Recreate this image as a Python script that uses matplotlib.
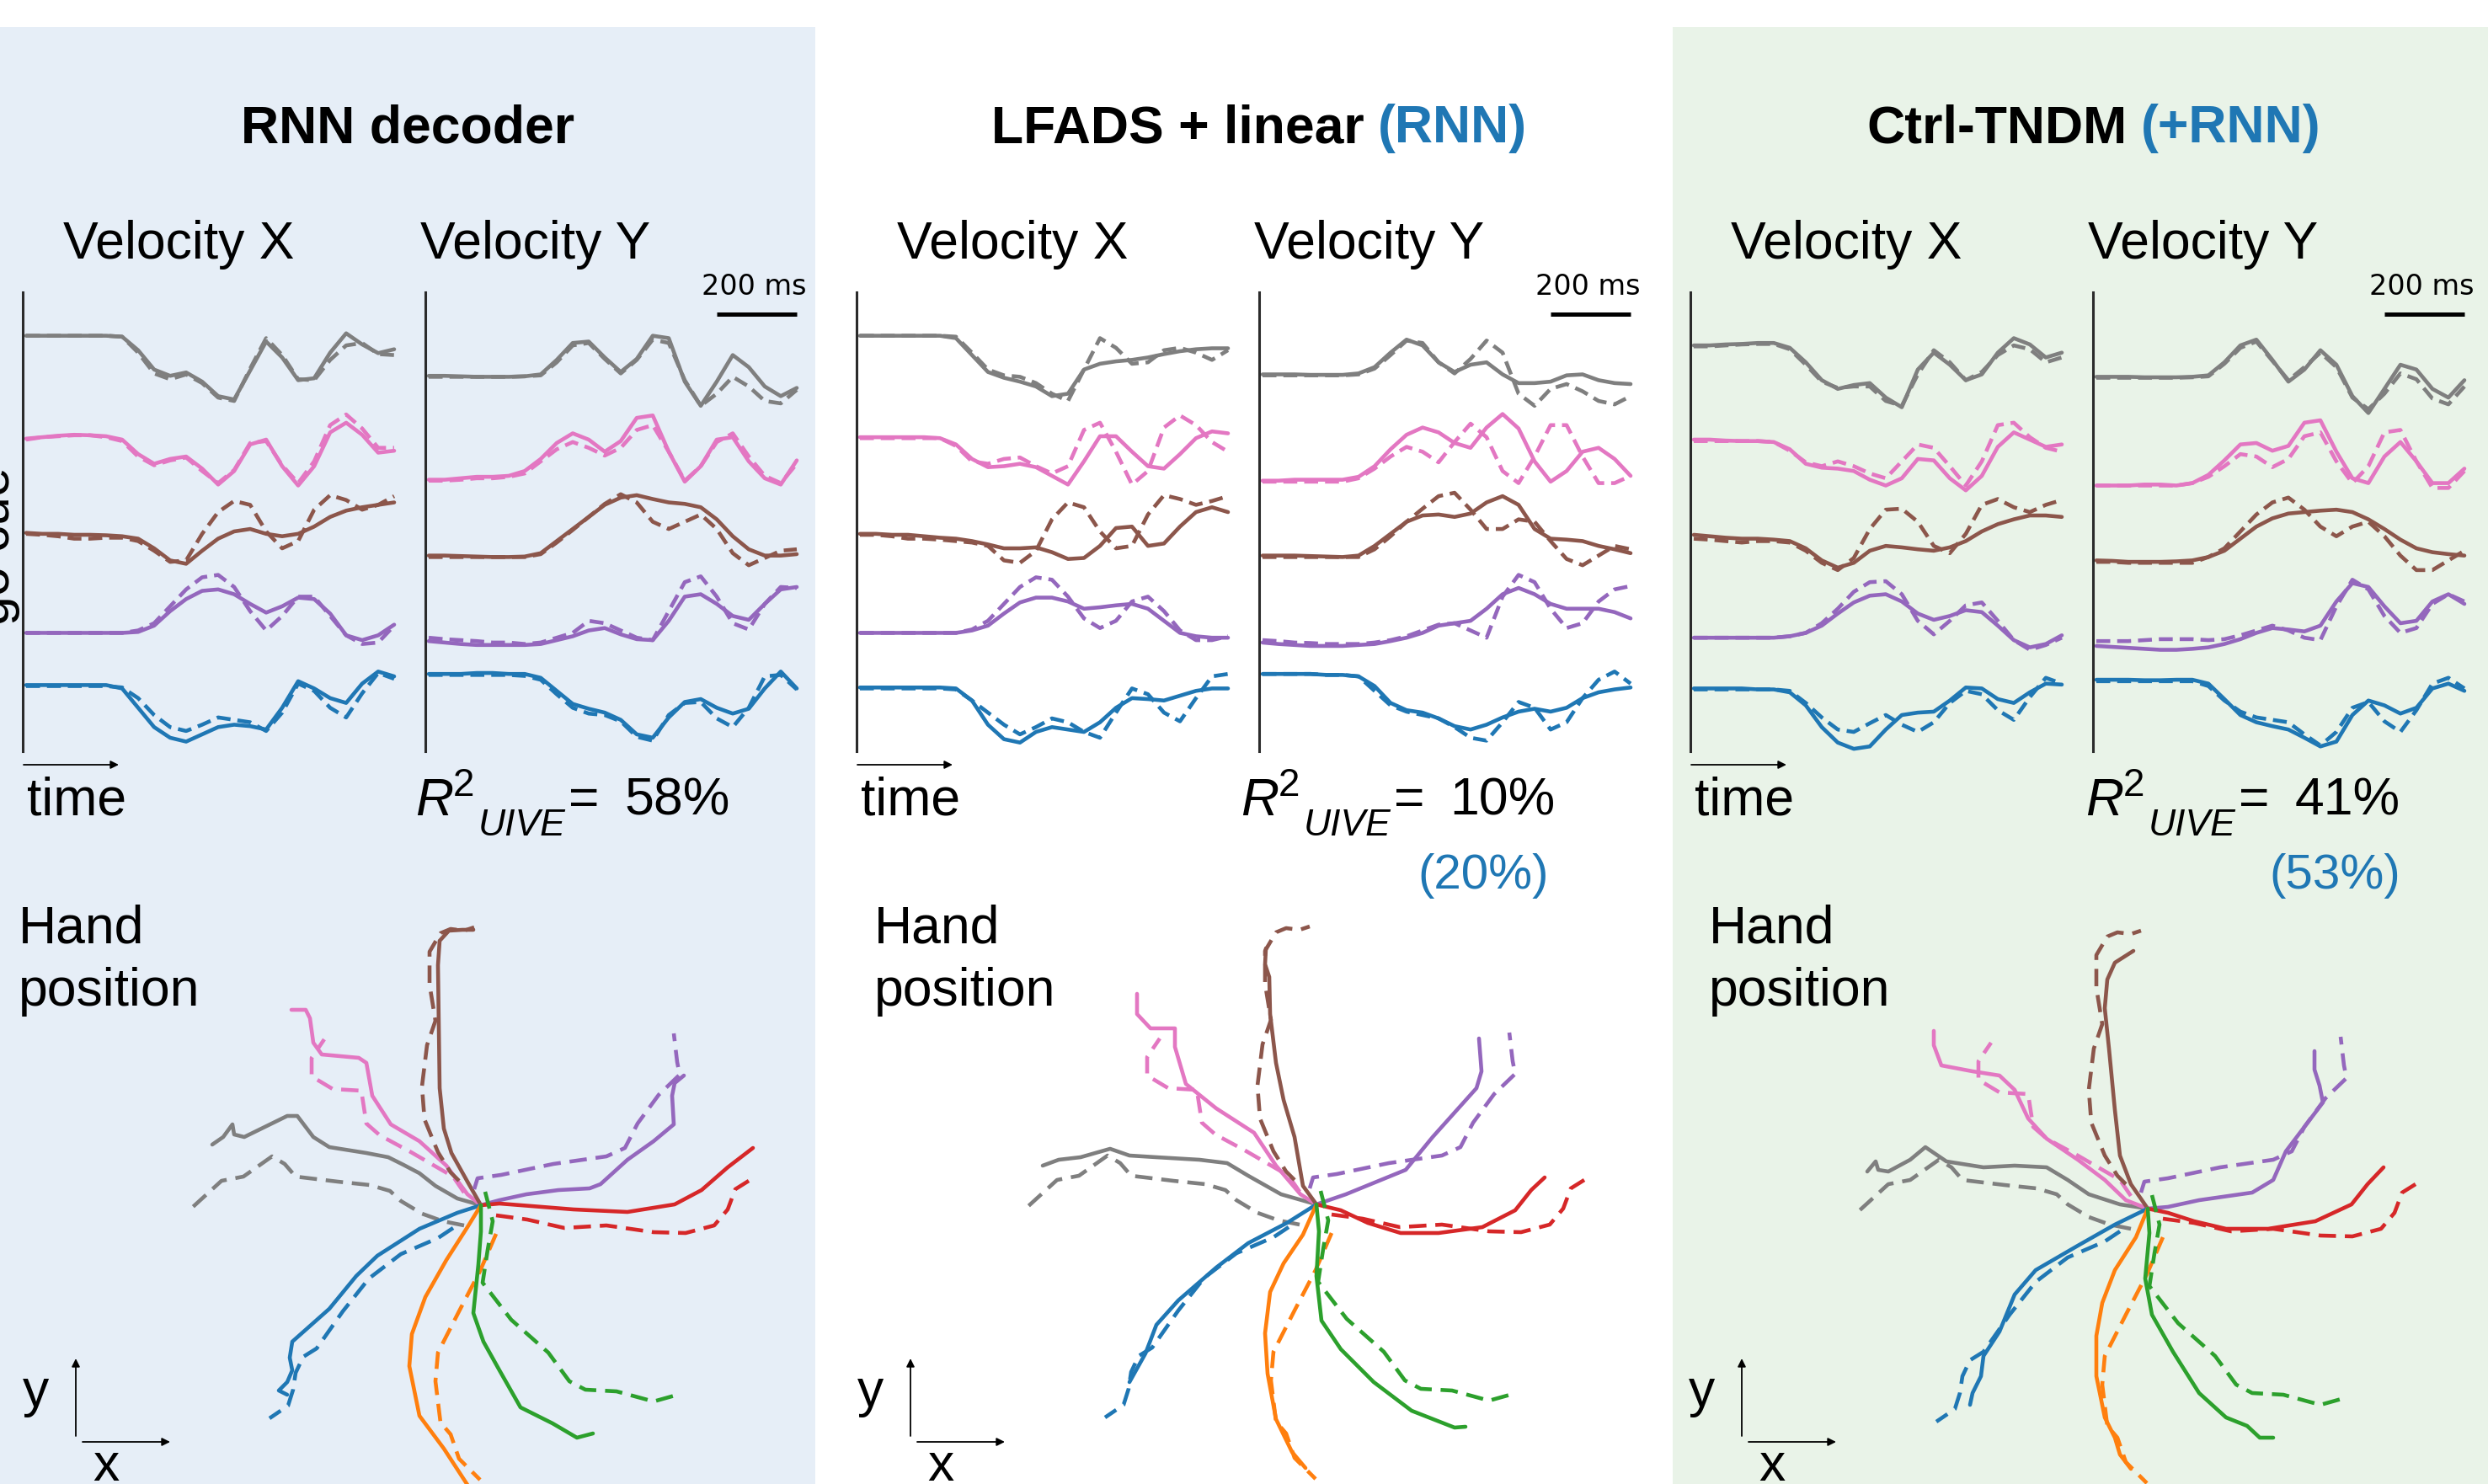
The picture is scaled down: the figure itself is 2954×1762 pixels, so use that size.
import matplotlib
matplotlib.use('Agg')
import matplotlib.pyplot as plt
from matplotlib.patches import Rectangle
from matplotlib.transforms import blended_transform_factory

plt.rcParams['font.family'] = ['Liberation Sans', 'DejaVu Sans']

W, H = 2954, 1762
BLUE_TXT = '#1f77b4'

# trace colours (velocity: top to bottom; hand: one per reach direction)
VEL_COLORS = ['#7f7f7f', '#e377c2', '#8c564b', '#9467bd', '#1f77b4']
HAND_COLORS = ['#7f7f7f', '#e377c2', '#8c564b', '#9467bd', '#d62728', '#1f77b4', '#ff7f0e', '#2ca02c']

TIME_MS = [0, 40, 80, 120, 160, 200, 240, 280, 320, 360, 400, 440,
           480, 520, 560, 600, 640, 680, 720, 760, 800, 840, 880, 920]
SCALE_MS = 200

TITLES_BLACK = ['RNN decoder', 'LFADS + linear', 'Ctrl-TNDM']
TITLES_BLUE = ['', '(RNN)', '(+RNN)']
R2_MAIN = ['58%', '10%', '41%']
R2_RNN = ['', '(20%)', '(53%)']

# velocity traces (stacked, arbitrary units, larger = lower on the page)
# solid = decoded, dashed = recorded
RNN_VX_DEC = [
    [520,520,520,520,520,520,522,550,590,603,596,615,645,652,592,532,565,612,608,555,515,538,556,548],
    [733,730,727,725,726,728,735,765,785,775,770,795,828,800,745,735,790,830,790,720,700,725,762,758],
    [928,930,930,932,932,933,935,940,960,985,992,965,940,925,920,930,935,930,915,895,882,875,870,865],
    [1135,1135,1135,1135,1135,1135,1135,1133,1120,1090,1065,1048,1045,1055,1075,1093,1080,1062,1065,1095,1140,1150,1140,1118],
    [1243,1243,1243,1243,1243,1243,1250,1290,1330,1352,1360,1345,1330,1325,1328,1335,1290,1235,1250,1270,1280,1240,1215,1225],
]
RNN_VX_TRUE = [
    [520,520,520,520,520,520,522,555,598,610,600,618,648,655,588,525,560,610,612,570,540,535,558,560],
    [735,730,728,726,726,730,738,770,788,778,772,800,825,798,742,738,788,825,780,705,683,712,752,752],
    [930,932,935,940,940,938,938,945,965,988,985,930,885,862,870,925,960,945,880,850,860,880,870,852],
    [1135,1135,1135,1135,1135,1135,1135,1130,1115,1080,1045,1020,1015,1040,1090,1130,1100,1060,1060,1100,1140,1158,1155,1120],
    [1245,1245,1245,1245,1245,1245,1248,1270,1305,1330,1338,1325,1310,1315,1320,1338,1300,1240,1255,1290,1310,1260,1218,1230],
]
RNN_VY_DEC = [
    [603,603,604,605,605,605,604,600,570,535,532,565,595,568,520,525,615,665,615,560,585,625,645,628],
    [818,818,815,812,812,810,800,775,742,722,735,760,738,690,685,760,822,790,735,730,780,815,828,778],
    [975,975,976,977,978,978,977,970,945,920,895,870,855,850,858,865,868,875,900,935,962,975,975,972],
    [1152,1155,1158,1160,1160,1160,1160,1158,1150,1142,1130,1125,1138,1148,1150,1110,1060,1055,1075,1100,1108,1075,1045,1040],
    [1220,1220,1220,1218,1218,1220,1220,1228,1255,1282,1292,1300,1315,1345,1352,1310,1278,1272,1290,1302,1292,1250,1215,1250],
]
RNN_VY_TRUE = [
    [605,605,605,605,605,605,604,602,575,540,535,568,598,570,528,535,612,665,640,605,625,655,660,632],
    [820,820,818,815,815,812,805,780,755,740,752,768,752,715,705,760,820,790,740,722,770,810,825,785],
    [978,978,978,978,978,978,978,972,948,922,895,868,848,865,905,920,905,890,920,970,995,980,965,962],
    [1145,1148,1150,1152,1155,1155,1158,1155,1145,1135,1110,1115,1130,1145,1150,1090,1030,1018,1060,1115,1128,1075,1040,1042],
    [1222,1222,1222,1222,1222,1222,1224,1232,1262,1290,1302,1305,1318,1350,1358,1305,1280,1278,1312,1330,1290,1225,1222,1252],
]

LFADS_VX_DEC = [
    [520,520,520,520,520,520,525,560,595,607,615,625,645,640,590,578,573,570,565,558,552,548,546,546],
    [730,730,730,730,730,732,745,775,792,790,785,792,810,828,780,728,728,760,790,795,765,732,718,722],
    [930,930,932,932,935,938,940,945,952,960,960,958,968,982,980,955,918,915,955,950,915,885,875,885],
    [1135,1135,1135,1135,1135,1135,1135,1130,1120,1095,1072,1062,1062,1070,1085,1082,1078,1075,1085,1110,1135,1142,1145,1145],
    [1248,1248,1248,1248,1248,1248,1250,1275,1325,1355,1362,1340,1330,1335,1340,1320,1290,1270,1272,1275,1265,1255,1250,1250],
]
LFADS_VX_TRUE = [
    [520,520,520,520,520,520,522,555,590,602,605,618,640,655,590,525,545,578,575,550,545,555,570,550],
    [732,732,732,732,732,732,748,780,785,775,772,790,805,790,715,700,760,828,800,710,685,705,740,760],
    [932,932,935,940,940,942,945,948,955,985,990,965,900,865,875,925,960,955,890,850,858,870,862,852],
    [1135,1135,1135,1135,1135,1135,1135,1128,1110,1075,1040,1020,1025,1060,1105,1125,1110,1070,1060,1090,1130,1150,1150,1142],
    [1250,1250,1250,1250,1250,1250,1252,1275,1300,1325,1345,1330,1312,1320,1340,1352,1300,1250,1262,1300,1318,1270,1225,1220],
]
LFADS_VY_DEC = [
    [600,600,600,601,601,601,598,585,555,528,540,575,595,580,575,600,618,618,615,602,600,612,618,620],
    [820,820,818,818,818,818,812,790,755,725,710,720,742,752,710,682,712,780,822,800,760,752,775,810],
    [975,975,975,976,977,978,975,955,930,905,892,890,895,888,865,852,870,920,940,942,945,955,962,970],
    [1155,1158,1160,1162,1162,1162,1160,1158,1152,1145,1135,1120,1115,1110,1085,1055,1042,1055,1075,1085,1085,1085,1092,1105],
    [1220,1220,1220,1220,1222,1222,1225,1245,1280,1295,1300,1312,1328,1335,1325,1310,1298,1292,1298,1290,1270,1258,1252,1248],
]
LFADS_VY_TRUE = [
    [602,602,602,602,602,602,600,588,560,530,535,575,598,568,530,555,640,665,630,620,635,655,662,645],
    [822,822,822,822,822,822,815,795,770,750,760,782,740,702,730,800,825,770,705,705,770,825,825,810],
    [978,978,978,978,978,978,978,962,935,905,878,852,845,880,920,920,900,905,945,982,995,975,955,962],
    [1150,1152,1155,1156,1158,1158,1158,1155,1150,1142,1130,1118,1115,1130,1145,1060,1015,1030,1085,1125,1115,1070,1045,1038],
    [1220,1220,1220,1220,1222,1222,1225,1255,1285,1298,1305,1312,1330,1352,1358,1320,1278,1290,1335,1320,1270,1232,1215,1240],
]

TNDM_VX_DEC = [
    [540,540,538,537,535,535,545,575,612,630,622,618,648,668,590,555,580,612,600,555,525,538,565,555],
    [735,735,737,738,738,740,755,785,793,795,800,818,830,815,775,778,815,840,810,750,720,735,750,745],
    [932,935,938,940,940,942,945,960,985,1000,990,965,955,958,962,965,958,945,925,910,900,892,892,895],
    [1145,1145,1145,1145,1145,1145,1142,1135,1120,1095,1072,1058,1055,1070,1095,1108,1100,1088,1092,1120,1150,1165,1158,1140],
    [1250,1250,1250,1250,1252,1252,1258,1285,1330,1362,1375,1370,1335,1305,1300,1298,1275,1248,1250,1272,1280,1258,1240,1242],
]
TNDM_VX_TRUE = [
    [542,542,540,538,537,537,548,580,615,628,625,625,655,665,600,550,575,612,595,560,540,548,575,565],
    [738,738,738,738,738,740,758,782,790,780,790,805,815,780,745,752,790,830,780,705,700,730,752,760],
    [940,942,945,948,945,945,948,965,990,1005,980,920,880,878,905,955,970,930,870,858,875,885,870,860],
    [1145,1145,1145,1145,1145,1145,1142,1135,1115,1085,1050,1030,1028,1055,1110,1138,1110,1078,1072,1110,1150,1170,1160,1145],
    [1252,1252,1252,1252,1252,1252,1255,1280,1310,1335,1340,1322,1305,1325,1340,1320,1280,1255,1262,1295,1315,1268,1228,1240],
]
TNDM_VY_DEC = [
    [605,605,605,606,606,606,605,602,575,540,528,570,615,590,550,580,645,680,630,580,590,630,648,612],
    [830,830,830,828,828,830,825,808,778,745,742,758,748,700,695,760,815,825,770,740,780,825,825,795],
    [985,986,988,988,988,987,985,978,965,940,915,898,888,885,882,880,885,900,920,942,960,968,972,975],
    [1162,1164,1166,1168,1170,1170,1168,1165,1158,1148,1135,1125,1128,1132,1120,1070,1032,1040,1080,1115,1110,1070,1055,1075],
    [1232,1232,1232,1233,1233,1232,1232,1240,1272,1305,1320,1328,1335,1352,1370,1360,1305,1275,1285,1302,1290,1250,1240,1255],
]
TNDM_VY_TRUE = [
    [607,607,607,607,607,607,606,604,578,545,532,572,612,585,555,585,648,672,640,598,610,650,662,625],
    [830,830,830,830,830,830,825,812,790,765,770,792,775,728,720,780,825,790,720,715,780,835,835,800],
    [988,988,990,990,990,990,990,978,960,925,890,865,855,880,915,935,915,905,935,975,1005,1005,985,965],
    [1152,1152,1152,1150,1148,1148,1148,1150,1148,1140,1130,1120,1130,1145,1150,1080,1025,1045,1100,1135,1125,1075,1055,1070],
    [1235,1235,1235,1235,1235,1235,1235,1245,1275,1298,1310,1315,1320,1345,1368,1340,1290,1278,1318,1340,1295,1240,1228,1250],
]

# hand trajectories (x, y) relative to the start point; dashed = recorded
HAND_TRUE = [
    [(-20,-24),(-45,-19),(-70,-10),(-95,5),(-108,17),(-132,24),(-170,28),(-220,34),(-233,49),(-248,58),(-282,34),(-308,29),(-342,-2)],
    [(-20,15),(-33,34),(-83,63),(-120,83),(-136,97),(-142,136),(-176,138),(-201,153),(-201,175),(-186,197)],
    [(-26,29),(-36,39),(-51,63),(-67,102),(-70,141),(-64,190),(-54,219),(-61,262),(-61,301),(-48,323),(-36,328),(-20,326),(-8,330)],
    [(-8,19),(-4,32),(24,36),(86,49),(149,58),(171,68),(186,97),(211,131),(236,155),(233,170),(229,204)],
    [(18,-12),(55,-17),(99,-27),(149,-24),(205,-32),(243,-33),(277,-24),(293,-5),(302,19),(318,29)],
    [(-33,-27),(-51,-39),(-95,-58),(-133,-87),(-164,-126),(-195,-170),(-211,-180),(-220,-199),(-223,-219),(-229,-238),(-251,-253)],
    [(18,-34),(-1,-78),(-26,-126),(-51,-175),(-54,-209),(-48,-258),(-36,-272),(-26,-301),(-1,-326)],
    [(5,16),(14,-19),(8,-53),(2,-92),(36,-136),(80,-175),(105,-209),(124,-219),(161,-221),(205,-233),(230,-226)],
]
RNN_HAND = [
    [(0,0),(-28,8),(-54,23),(-73,38),(-92,48),(-110,57),(-136,62),(-180,69),(-199,81),(-218,106),(-230,106),(-281,81),(-293,84),(-295,96),(-306,81),(-319,72)],
    [(0,0),(-16,13),(-41,47),(-73,76),(-107,96),(-129,130),(-136,169),(-145,175),(-189,179),(-199,193),(-203,222),(-208,232),(-225,232)],
    [(0,0),(-16,28),(-35,62),(-44,91),(-49,139),(-50,212),(-51,285),(-49,314),(-38,326),(-22,327),(-9,327)],
    [(0,0),(22,6),(54,13),(92,18),(129,20),(142,25),(174,54),(205,76),(229,96),(227,130),(230,145),(241,154)],
    [(0,0),(22,2),(60,-1),(110,-5),(174,-8),(230,1),(262,18),(293,45),(323,68)],
    [(0,0),(-28,-9),(-73,-28),(-123,-60),(-148,-84),(-180,-123),(-224,-162),(-227,-181),(-224,-196),(-230,-210),(-240,-220),(-230,-225)],
    [(0,0),(-16,-26),(-41,-65),(-66,-109),(-82,-153),(-85,-191),(-73,-250),(-44,-289),(-16,-332)],
    [(0,0),(0,-31),(-3,-70),(-9,-128),(3,-162),(22,-196),(47,-240),(85,-259),(114,-276),(133,-271)],
]
LFADS_HAND = [
    [(0,0),(-42,12),(-81,34),(-106,49),(-139,53),(-190,56),(-222,58),(-245,66),(-280,56),(-306,53),(-325,46)],
    [(0,0),(-19,12),(-48,46),(-74,85),(-119,114),(-155,143),(-168,187),(-168,209),(-197,209),(-213,226),(-213,250)],
    [(0,0),(-16,22),(-26,80),(-39,124),(-48,168),(-55,226),(-56,270),(-61,285),(-60,304)],
    [(0,0),(35,12),(106,41),(138,80),(190,138),(196,158),(193,197)],
    [(0,0),(29,-7),(61,-22),(100,-34),(145,-34),(197,-27),(236,-7),(255,17),(271,32)],
    [(0,0),(-35,-22),(-81,-46),(-119,-75),(-164,-114),(-190,-143),(-203,-177),(-222,-211)],
    [(0,0),(-16,-36),(-39,-70),(-55,-104),(-61,-153),(-58,-201),(-48,-255),(-29,-294),(-13,-313)],
    [(0,0),(3,-32),(0,-85),(6,-138),(29,-172),(68,-211),(113,-245),(164,-265),(177,-264)],
]
TNDM_HAND = [
    [(0,0),(-33,5),(-70,17),(-95,34),(-120,49),(-158,51),(-195,49),(-239,56),(-264,73),(-282,58),(-308,44),(-320,46),(-323,56),(-333,44)],
    [(0,0),(-26,10),(-51,34),(-83,58),(-120,83),(-142,107),(-158,141),(-176,158),(-208,163),(-245,170),(-254,194),(-254,211)],
    [(0,0),(-20,29),(-33,63),(-39,117),(-46,190),(-51,238),(-48,272),(-39,292),(-17,306)],
    [(0,0),(24,2),(61,10),(124,19),(149,34),(164,68),(186,97),(208,126),(204,146),(198,165),(198,187)],
    [(0,0),(24,-5),(55,-15),(93,-24),(143,-24),(199,-15),(242,5),(261,29),(280,49)],
    [(0,0),(-39,-19),(-83,-44),(-133,-73),(-158,-102),(-176,-146),(-195,-175),(-198,-199),(-208,-219),(-211,-233)],
    [(0,0),(-14,-34),(-39,-73),(-54,-112),(-61,-151),(-61,-199),(-51,-248),(-39,-272),(-33,-292),(-20,-309)],
    [(0,0),(2,-29),(-3,-83),(5,-126),(30,-170),(61,-219),(93,-248),(118,-258),(133,-272),(149,-272)],
]

VX_DEC = [RNN_VX_DEC, LFADS_VX_DEC, TNDM_VX_DEC]
VX_TRUE = [RNN_VX_TRUE, LFADS_VX_TRUE, TNDM_VX_TRUE]
VY_DEC = [RNN_VY_DEC, LFADS_VY_DEC, TNDM_VY_DEC]
VY_TRUE = [RNN_VY_TRUE, LFADS_VY_TRUE, TNDM_VY_TRUE]
HAND_DEC = [RNN_HAND, LFADS_HAND, TNDM_HAND]

# layout (pixels)
PANEL_OFF = [0, 990, 1980]
TITLE_CX = [484, 1495, 2486]
R2_X = [493, 1473, 2476]
R2_RNN_CX = [0, 1761, 2772]
HAND_TXT_X = [22, 1038, 2029]
HAND_CENTRE = [(571, 1431), (1563, 1430), (2550, 1435)]
AXIS_ARROW_OFF = [0, 991, 1978]

LW = 3.3
DASH = (0, (3.6, 1.8))
HAND_DASH = (0, (4.5, 2.3))

fig = plt.figure(figsize=(W / 100, H / 100), dpi=100)
bg = fig.add_axes([0, 0, 1, 1])
bg.set_xlim(0, W)
bg.set_ylim(H, 0)
bg.axis('off')
bg.add_patch(Rectangle((0, 32), 968, H - 32, color='#e6eef7', lw=0))
bg.add_patch(Rectangle((1986, 32), W - 1986, H - 32, color='#e9f3e8', lw=0))

renderer = fig.canvas.get_renderer()


def px_axes(x, y, w, h):
    ax = fig.add_axes([x / W, 1 - (y + h) / H, w / W, h / H])
    ax.patch.set_visible(False)
    return ax


def velocity_axes(x):
    ax = px_axes(x, 347, 452, 545)
    ax.set_xlim(-4 / 0.475, 448 / 0.475)
    ax.set_ylim(1380, 430)
    for s in ['top', 'right', 'bottom']:
        ax.spines[s].set_visible(False)
    ax.spines['left'].set_color('#2b2b2b')
    ax.spines['left'].set_linewidth(2.2)
    ax.set_xticks([])
    ax.set_yticks([])
    return ax


def r2_label(x, y, value):
    # R (italic) + superscript 2 + subscript UIVE + "=" + value
    pieces = [('R', 45, 'italic', 0, 0),
              ('2', 33, 'normal', -23, 4),
              ('UIVE', 32, 'italic', 24, 4),
              ('=', 45, 'normal', 0, 30),
              (value, 45, 'normal', 0, 0)]
    cur = x
    for txt, size, style, dy, gap in pieces:
        t = bg.text(cur, y + dy, txt, fontsize=size, style=style, va='baseline')
        cur += t.get_window_extent(renderer).width + gap


for p in range(3):
    off = PANEL_OFF[p]

    # panel title, black + blue part
    t1 = bg.text(0, 169, TITLES_BLACK[p], fontsize=45, fontweight='bold', va='baseline')
    w1 = t1.get_window_extent(renderer).width
    if TITLES_BLUE[p]:
        t2 = bg.text(0, 169, TITLES_BLUE[p], fontsize=45, fontweight='bold',
                     va='baseline', color=BLUE_TXT)
        w2 = t2.get_window_extent(renderer).width
        gap = 17
        x0 = TITLE_CX[p] - (w1 + gap + w2) / 2
        t1.set_x(x0)
        t2.set_x(x0 + w1 + gap)
    else:
        t1.set_x(TITLE_CX[p] - w1 / 2)

    bg.text(off + 212, 307, 'Velocity X', fontsize=45, ha='center', va='baseline')
    bg.text(off + 636, 307, 'Velocity Y', fontsize=45, ha='center', va='baseline')

    axx = velocity_axes(off + 27)
    axy = velocity_axes(off + 505)
    for ax, dec, true in [(axx, VX_DEC[p], VX_TRUE[p]), (axy, VY_DEC[p], VY_TRUE[p])]:
        for c, yd, yt in zip(VEL_COLORS, dec, true):
            ax.plot(TIME_MS, yd, color=c, lw=LW, solid_capstyle='round', solid_joinstyle='round')
            ax.plot(TIME_MS, yt, color=c, lw=LW, linestyle=DASH)

    # scale bar
    tr = blended_transform_factory(axy.transData, axy.transAxes)
    axy.plot([TIME_MS[-1] - SCALE_MS, TIME_MS[-1]], [0.952, 0.952], color='k',
             lw=3.6, transform=tr, clip_on=False, solid_capstyle='butt')
    bg.text(off + 895, 350, '200 ms', family='DejaVu Sans', fontsize=24,
            ha='center', va='baseline')

    # time arrow
    bg.annotate('', xy=(off + 141, 908), xytext=(off + 28, 908),
                arrowprops=dict(arrowstyle='-|>', lw=1.3, color='k', mutation_scale=14,
                                shrinkA=0, shrinkB=0))
    bg.text(off + 32, 967, 'time', fontsize=45, va='baseline')

    # R^2
    r2_label(R2_X[p], 968, R2_MAIN[p])
    if R2_RNN[p]:
        bg.text(R2_RNN_CX[p], 1055, R2_RNN[p], fontsize=42, va='baseline',
                ha='center', color=BLUE_TXT)

    # hand position
    bg.text(HAND_TXT_X[p], 1119, 'Hand', fontsize=45, va='baseline')
    bg.text(HAND_TXT_X[p], 1194, 'position', fontsize=45, va='baseline')
    cx, cy = HAND_CENTRE[p]
    axh = px_axes(cx - 400, cy - 400, 800, 800)
    axh.set_xlim(-400, 400)
    axh.set_ylim(-400, 400)
    axh.axis('off')
    for c, dec, true in zip(HAND_COLORS, HAND_DEC[p], HAND_TRUE):
        axh.plot([q[0] for q in dec], [q[1] for q in dec], color=c, lw=LW,
                 solid_capstyle='round', solid_joinstyle='round', clip_on=False)
        axh.plot([q[0] for q in true], [q[1] for q in true], color=c, lw=LW,
                 linestyle=HAND_DASH, clip_on=False)

    a = AXIS_ARROW_OFF[p]
    bg.annotate('', xy=(a + 90, 1613), xytext=(a + 90, 1705),
                arrowprops=dict(arrowstyle='-|>', lw=1.3, color='k', mutation_scale=14,
                                shrinkA=0, shrinkB=0))
    bg.annotate('', xy=(a + 202, 1712), xytext=(a + 98, 1712),
                arrowprops=dict(arrowstyle='-|>', lw=1.3, color='k', mutation_scale=14,
                                shrinkA=0, shrinkB=0))
    bg.text(a + 43, 1670, 'y', fontsize=45, ha='center', va='baseline')
    bg.text(a + 126, 1758, 'x', fontsize=45, ha='center', va='baseline')

# go cue label, cut by the left edge
bg.text(24, 648, 'go cue', rotation=90, fontsize=45, ha='right', va='center')

fig.savefig('out.png', dpi=100)
